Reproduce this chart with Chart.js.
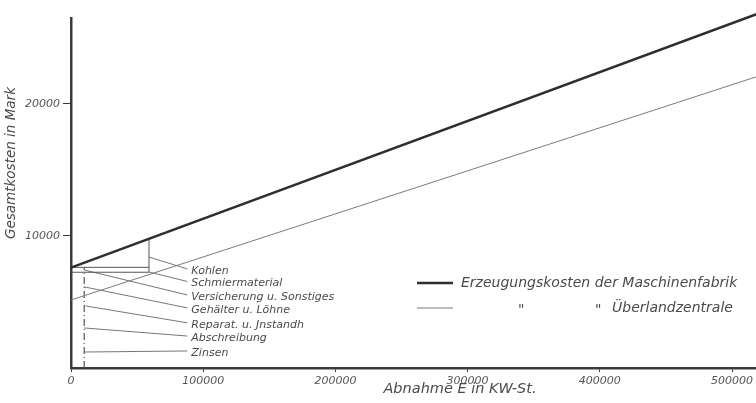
<!DOCTYPE html>
<html>
<head>
<meta charset="utf-8">
<script src="https://cdn.jsdelivr.net/npm/chart.js@4"></script>
<style>
  body { margin: 0; background: #fff; }
  #wrap { width: 756px; height: 403px; }
</style>
</head>
<body>
<div id="wrap"><canvas id="kosten"></canvas></div>
<script>
// Abnahme in KW-St. (x) and Gesamtkosten in Mark (y)
const abnahme = [0, 520000];
const maschinenfabrik = [7600, 26840];
const ueberland = [5150, 22100];

const xTicks = [0, 100000, 200000, 300000, 400000, 500000];
const yTicks = [10000, 20000];

// cost components at the start, with leader lines to their labels
const posten = ['Kohlen', 'Schmiermaterial', 'Versicherung u. Sonstiges', 'Gehälter u. Löhne', 'Reparat. u. Jnstandh', 'Abschreibung', 'Zinsen'];
const vonX = [59000, 59000, 10000, 10000, 11000, 10000, 10000];
const vonY = [8400, 7270, 7420, 6140, 4700, 3030, 1210];
const bisX = [88000, 88000, 88000, 88000, 88000, 88000, 88000];
const bisY = [7500, 6550, 5530, 4550, 3420, 2420, 1290];

// helper lines of the breakdown
const festX = [0, 59000];
const festY1 = [7620, 7620];
const festY2 = [7250, 7250];
const teilX = [10000, 10000];
const teilY = [0, 7600];
const kohleX = [59000, 59000];
const kohleY = [7250, 9780];

const FONT = "'DejaVu Sans', sans-serif";
const INK = '#3a3a3a';

function pts(xs, ys) { return xs.map((x, i) => ({ x: x, y: ys[i] })); }

const datasets = [
  { label: 'Erzeugungskosten der Maschinenfabrik', data: pts(abnahme, maschinenfabrik), borderColor: '#2e2e2e', borderWidth: 2.6 },
  { label: 'Überlandzentrale', data: pts(abnahme, ueberland), borderColor: '#7a7a7a', borderWidth: 1 },
  { data: pts(festX, festY1), borderColor: '#555', borderWidth: 1 },
  { data: pts(festX, festY2), borderColor: '#555', borderWidth: 1 },
  { data: pts(teilX, teilY), borderColor: '#555', borderWidth: 1.2, borderDash: [7, 3, 1, 3] },
  { data: pts(kohleX, kohleY), borderColor: '#555', borderWidth: 1 }
];
posten.forEach((p, i) => {
  datasets.push({ data: [{ x: vonX[i], y: vonY[i] }, { x: bisX[i], y: bisY[i] }], borderColor: '#666', borderWidth: 0.9 });
});
datasets.forEach(d => { d.showLine = true; d.pointRadius = 0; d.clip = false; d.fill = false; });

const textPlugin = {
  id: 'texte',
  afterDraw(chart) {
    const c = chart.ctx, xs = chart.scales.x, ys = chart.scales.y;
    c.save();
    c.fillStyle = '#4a4a4a';
    c.textBaseline = 'middle';
    c.textAlign = 'left';
    c.font = 'italic 11px ' + FONT;
    posten.forEach((p, i) => {
      c.fillText(p, xs.getPixelForValue(bisX[i]) + 4, ys.getPixelForValue(bisY[i]) + 2);
    });
    // legend
    c.strokeStyle = '#2e2e2e'; c.lineWidth = 2.6;
    c.beginPath(); c.moveTo(417, 283); c.lineTo(453, 283); c.stroke();
    c.strokeStyle = '#7a7a7a'; c.lineWidth = 1;
    c.beginPath(); c.moveTo(417, 308); c.lineTo(453, 308); c.stroke();
    c.font = 'italic 14px ' + FONT;
    c.fillText('Erzeugungskosten der Maschinenfabrik', 461, 283);
    c.fillText('"', 518, 310);
    c.fillText('"', 595, 310);
    c.fillText('Überlandzentrale', 612, 308);
    // axis titles
    c.textAlign = 'center';
    c.font = 'italic 14.5px ' + FONT;
    c.fillText('Abnahme E in KW-St.', 460, 389);
    c.font = 'italic 13.5px ' + FONT;
    c.translate(11, 163);
    c.rotate(-Math.PI / 2);
    c.fillText('Gesamtkosten in Mark', 0, 0);
    c.restore();
  }
};

new Chart(document.getElementById('kosten'), {
  type: 'scatter',
  data: { datasets: datasets },
  options: {
    responsive: true,
    maintainAspectRatio: false,
    animation: false,
    layout: { padding: { top: 18, right: 0, left: 0, bottom: 0 } },
    plugins: { legend: { display: false }, tooltip: { enabled: false } },
    scales: {
      x: {
        type: 'linear', min: 0, max: 518000,
        afterBuildTicks: s => { s.ticks = xTicks.map(v => ({ value: v })); },
        afterFit: s => { s.height = 35; },
        border: { color: INK, width: 2.5 },
        grid: { drawOnChartArea: false, color: INK, tickLength: 4 },
        ticks: { color: '#555', padding: 3, maxRotation: 0, font: { family: FONT, style: 'italic', size: 11 }, callback: v => String(v) }
      },
      y: {
        type: 'linear', min: 0, max: 26500,
        afterBuildTicks: s => { s.ticks = yTicks.map(v => ({ value: v })); },
        afterFit: s => { s.width = 71; },
        border: { color: INK, width: 2.5 },
        grid: { drawOnChartArea: false, color: INK, tickLength: 8 },
        ticks: { color: '#555', padding: 3, font: { family: FONT, style: 'italic', size: 11 }, callback: v => String(v) }
      }
    }
  },
  plugins: [textPlugin]
});
</script>
</body>
</html>
